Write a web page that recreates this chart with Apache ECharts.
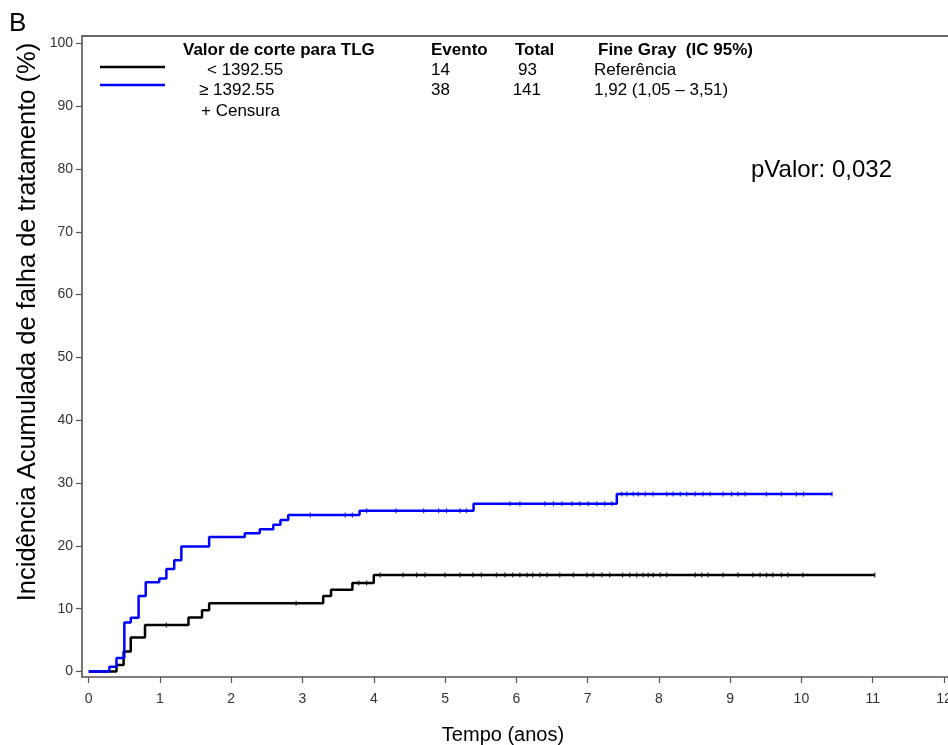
<!DOCTYPE html>
<html>
<head>
<meta charset="utf-8">
<script src="https://cdn.jsdelivr.net/npm/echarts@6/dist/echarts.min.js"></script>
<style>
html,body{margin:0;padding:0;background:#fff;}
#chart{width:948px;height:745px;}
</style>
</head>
<body>
<div id="chart"></div>
<script>
// ---- data ----
var xTicks = [0,1,2,3,4,5,6,7,8,9,10,11,12];
var yTicks = [0,10,20,30,40,50,60,70,80,90,100];

// Group "< 1392.55" (black): event times and cumulative incidence after each step
var lowTimes  = [0, 0.39, 0.49, 0.59, 0.79, 1.40, 1.59, 1.69, 3.29, 3.40, 3.70, 4.00, 11.03];
var lowValues = [0, 1.05, 3.2, 5.4, 7.4, 8.6, 9.75, 10.85, 12.0, 13.0, 14.1, 15.35, 15.35];
var lowCensor = [1.09, 2.91, 3.79, 3.90, 4.09, 4.41, 4.60, 4.72, 5.00, 5.21, 5.39, 5.51, 5.72, 5.84, 5.95,
  6.05, 6.15, 6.23, 6.33, 6.43, 6.61, 6.80, 6.99, 7.08, 7.20, 7.31, 7.49, 7.59, 7.69, 7.78, 7.85,
  7.92, 8.02, 8.11, 8.51, 8.60, 8.69, 8.90, 9.11, 9.32, 9.42, 9.51, 9.60, 9.72, 9.81, 10.02, 11.03];

// Group ">= 1392.55" (blue)
var highTimes  = [0, 0.29, 0.39, 0.50, 0.59, 0.70, 0.80, 0.99, 1.09, 1.20, 1.30, 1.69, 2.19, 2.40, 2.59, 2.69, 2.80, 3.80, 5.40, 7.41, 10.43];
var highValues = [0, 0.75, 2.15, 7.8, 8.55, 12.0, 14.2, 14.8, 16.3, 17.7, 19.9, 21.4, 22.0, 22.65, 23.35, 24.1, 24.9, 25.6, 26.7, 28.25, 28.25];
var highCensor = [3.11, 3.60, 3.70, 3.90, 4.31, 4.70, 4.91, 5.02, 5.21, 5.30, 5.91, 6.05, 6.40, 6.52, 6.64,
  6.78, 6.89, 7.01, 7.13, 7.24, 7.34, 7.48, 7.55, 7.64, 7.71, 7.81, 7.92, 8.11, 8.20, 8.30, 8.39,
  8.51, 8.62, 8.72, 8.90, 9.02, 9.11, 9.21, 9.51, 9.72, 9.93, 10.03, 10.43];

var groupNames = ['< 1392.55', '\u2265 1392.55'];
var events = ['14', '38'];
var totals = ['93', '141'];
var fineGray = ['Refer\u00eancia', '1,92 (1,05 \u2013 3,51)'];
var pValue = 'pValor: 0,032';

// ---- helpers ----
function pairs(t, v){ return t.map(function(x,i){ return [x, v[i]]; }); }
function valueAt(t, v, x){
  var y = v[0];
  for (var i=0;i<t.length;i++){ if (t[i] <= x) y = v[i]; }
  return y;
}
function censorPts(c, t, v){ return c.map(function(x){ return [x, valueAt(t, v, x)]; }); }

var FONT = 'Liberation Sans, Arial, sans-serif';
var chart = echarts.init(document.getElementById('chart'), null, {renderer:'canvas'});

var axisCol = '#555';
var LF = '17px ' + FONT, LB = 'bold 17px ' + FONT;
var option = {
  backgroundColor: '#fff',
  animation: false,
  grid: {left: 82, right: 0, top: 36, bottom: 68, containLabel: false, outerBoundsMode: 'none'},
  xAxis: [{
    type: 'value', min: -0.094, max: 12.057,
    axisLine: {show: true, onZero: false, lineStyle: {color: axisCol, width: 1.6}},
    axisTick: {show: true, length: 6, customValues: xTicks, lineStyle: {color: axisCol, width: 1.2}},
    axisLabel: {customValues: xTicks, color: '#333', fontSize: 14, fontFamily: FONT, margin: 15},
    splitLine: {show: false}
  }, {
    type: 'value', position: 'top', min: -0.094, max: 12.057,
    axisLine: {show: true, onZero: false, lineStyle: {color: '#666', width: 1.8}},
    axisTick: {show: false}, axisLabel: {show: false}, splitLine: {show: false}
  }],
  yAxis: [{
    type: 'value', min: -0.876, max: 101.16,
    axisLine: {show: true, onZero: false, lineStyle: {color: axisCol, width: 1.6}},
    axisTick: {show: true, length: 6, customValues: yTicks, lineStyle: {color: axisCol, width: 1.2}},
    axisLabel: {customValues: yTicks, color: '#333', fontSize: 14, fontFamily: FONT, margin: 9},
    splitLine: {show: false}
  }],
  series: [
    {type: 'line', step: 'end', data: pairs(lowTimes, lowValues), showSymbol: false,
     lineStyle: {color: '#000', width: 2.5}, z: 3},
    {type: 'line', step: 'end', data: pairs(highTimes, highValues), showSymbol: false,
     lineStyle: {color: '#0000ff', width: 2.5}, z: 4},
    {type: 'scatter', data: censorPts(lowCensor, lowTimes, lowValues), symbol: 'rect', symbolSize: [1.2, 5],
     itemStyle: {color: '#000'}, z: 5},
    {type: 'scatter', data: censorPts(highCensor, highTimes, highValues), symbol: 'rect', symbolSize: [1.2, 5],
     itemStyle: {color: '#0000ff'}, z: 6}
  ],
  graphic: [
    {type: 'text', x: 9, y: 24, style: {text: 'B', font: '26px ' + FONT, fill: '#000', verticalAlign: 'middle'}},
    {type: 'text', x: 28, y: 322, rotation: Math.PI/2,
     style: {text: 'Incid\u00eancia Acumulada de falha de tratamento (%)', font: '25.5px ' + FONT, fill: '#000', align: 'center', verticalAlign: 'middle'}},
    {type: 'text', x: 503, y: 735,
     style: {text: 'Tempo (anos)', font: '20px ' + FONT, fill: '#000', align: 'center', verticalAlign: 'middle'}},
    // legend block
    {type: 'text', x: 183, y: 50, style: {text: 'Valor de corte para TLG', font: LB, fill: '#000', verticalAlign: 'middle'}},
    {type: 'text', x: 431, y: 50, style: {text: 'Evento', font: LB, fill: '#000', verticalAlign: 'middle'}},
    {type: 'text', x: 515, y: 50, style: {text: 'Total', font: LB, fill: '#000', verticalAlign: 'middle'}},
    {type: 'text', x: 598, y: 50, style: {text: 'Fine Gray  (IC 95%)', font: LB, fill: '#000', verticalAlign: 'middle'}},
    {type: 'line', shape: {x1: 100, y1: 67, x2: 165, y2: 67}, style: {stroke: '#000', lineWidth: 2.5}},
    {type: 'line', shape: {x1: 100, y1: 85, x2: 165, y2: 85}, style: {stroke: '#0000ff', lineWidth: 2.5}},
    {type: 'text', x: 207, y: 70, style: {text: groupNames[0], font: LF, fill: '#000', verticalAlign: 'middle'}},
    {type: 'text', x: 199, y: 90, style: {text: groupNames[1], font: LF, fill: '#000', verticalAlign: 'middle'}},
    {type: 'text', x: 201, y: 111, style: {text: '+ Censura', font: LF, fill: '#000', verticalAlign: 'middle'}},
    {type: 'text', x: 431, y: 70, style: {text: events[0], font: LF, fill: '#000', verticalAlign: 'middle'}},
    {type: 'text', x: 431, y: 90, style: {text: events[1], font: LF, fill: '#000', verticalAlign: 'middle'}},
    {type: 'text', x: 537, y: 70, style: {text: totals[0], font: LF, fill: '#000', align: 'right', verticalAlign: 'middle'}},
    {type: 'text', x: 541, y: 90, style: {text: totals[1], font: LF, fill: '#000', align: 'right', verticalAlign: 'middle'}},
    {type: 'text', x: 594, y: 70, style: {text: fineGray[0], font: LF, fill: '#000', verticalAlign: 'middle'}},
    {type: 'text', x: 594, y: 90, style: {text: fineGray[1], font: LF, fill: '#000', verticalAlign: 'middle'}},
    {type: 'text', x: 751, y: 170, style: {text: pValue, font: '24px ' + FONT, fill: '#000', verticalAlign: 'middle'}}
  ]
};
chart.setOption(option);
</script>
</body>
</html>
